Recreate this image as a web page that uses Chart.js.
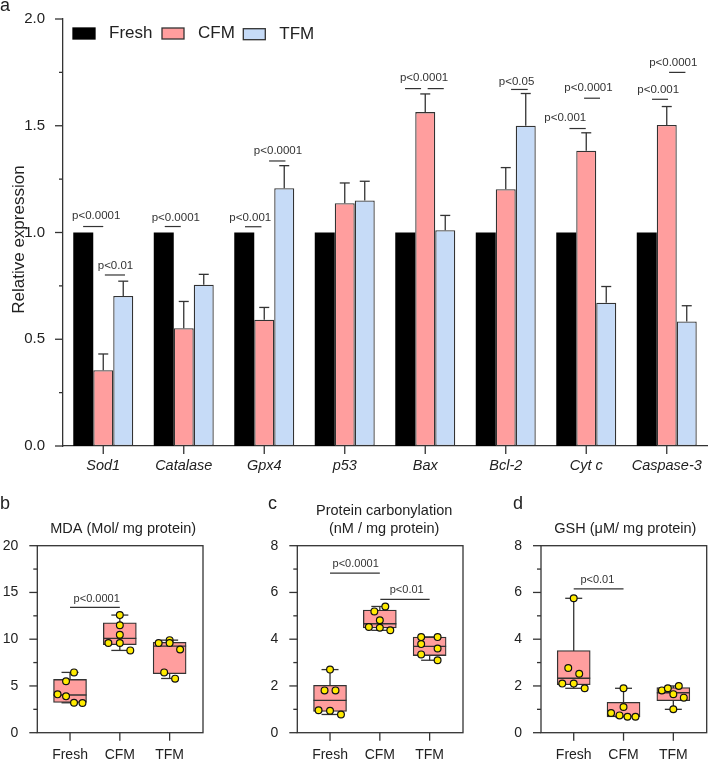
<!DOCTYPE html>
<html>
<head>
<meta charset="utf-8">
<title>Relative expression and oxidative markers</title>
<script src="https://cdn.jsdelivr.net/npm/chart.js@4"></script>
<style>
  html, body { margin: 0; padding: 0; background: #fff; width: 708px; height: 760px; overflow: hidden; }
  canvas { position: absolute; }
  .letter { position: absolute; font: 18px "Liberation Sans", Arial, sans-serif; color: #222; line-height: 20px; }
</style>
</head>
<body>
<canvas id="chart-a" width="708" height="480" style="left:0;top:0"></canvas>
<canvas id="chart-b" style="left:0;top:500px"></canvas>
<canvas id="chart-c" style="left:240px;top:500px"></canvas>
<canvas id="chart-d" style="left:470px;top:500px"></canvas>
<div class="letter" style="left:0;top:-5px">a</div>
<div class="letter" style="left:0;top:493px">b</div>
<div class="letter" style="left:268px;top:493px">c</div>
<div class="letter" style="left:513px;top:493px">d</div>
<script>
const FONT = '"Liberation Sans", Arial, sans-serif';
const INK = '#333';
const PINK = '#FF9E9E';
const BLUE = '#C6DBF7';
const YELLOW = '#FFEB00';

// panel a
const genes = ['Sod1', 'Catalase', 'Gpx4', 'p53', 'Bax', 'Bcl-2', 'Cyt c', 'Caspase-3'];
const seriesNames = ['Fresh', 'CFM', 'TFM'];
const freshValues = [1, 1, 1, 1, 1, 1, 1, 1];
const cfmValues = [0.355, 0.552, 0.591, 1.137, 1.564, 1.203, 1.383, 1.504];
const tfmValues = [0.703, 0.755, 1.207, 1.15, 1.011, 1.5, 0.671, 0.583];
const cfmErrTop = [0.431, 0.677, 0.649, 1.232, 1.649, 1.304, 1.467, 1.59];
const tfmErrTop = [0.772, 0.804, 1.313, 1.24, 1.08, 1.651, 0.747, 0.657];

// [x from, x to, y] and [text, x, y], in axis units
const pLinesA = [
  [-0.25, 0, 1.028], [0.02, 0.27, 0.801], [0.764, 0.963, 1.028], [1.761, 1.965, 1.027],
  [2.06, 2.263, 1.335], [3.749, 3.948, 1.674], [4.03, 4.23, 1.674], [5.066, 5.273, 1.67],
  [5.791, 5.994, 1.487], [5.973, 6.171, 1.629], [6.817, 7.016, 1.624], [7.029, 7.232, 1.75]
];
const pTextsA = [
  ['p<0.0001', -0.087, 1.078], ['p<0.01', 0.152, 0.842], ['p<0.0001', 0.901, 1.07],
  ['p<0.001', 1.826, 1.07], ['p<0.0001', 2.171, 1.382], ['p<0.0001', 3.985, 1.725],
  ['p<0.05', 5.134, 1.708], ['p<0.001', 5.739, 1.536], ['p<0.0001', 6.027, 1.676],
  ['p<0.001', 6.894, 1.668], ['p<0.0001', 7.081, 1.794]
];

// panels b, c, d
const groups = ['Fresh', 'CFM', 'TFM'];

// [low whisker, q1, median, q3, high whisker]
const mdaBoxes = [[3.2, 3.24, 4.03, 5.7, 6.45], [8.8, 9.41, 10.09, 11.76, 12.58], [5.8, 6.31, 9.27, 9.66, 9.9]];
const mdaPoints = [
  [-0.25, 4.1], [-0.08, 5.5], [-0.08, 3.89], [0.08, 6.45], [0.08, 3.2], [0.25, 3.17],
  [0.77, 9.59], [1, 12.58], [1, 11.5], [1, 10.48], [1, 9.59], [1.21, 8.8],
  [1.78, 9.59], [1.89, 6.45], [2, 9.9], [2, 9.59], [2.11, 5.78], [2.21, 8.9]
];
const carbBoxes = [[0.78, 0.91, 1.38, 2.03, 2.7], [4.38, 4.48, 4.66, 5.25, 5.4], [3.1, 3.3, 3.69, 4.09, 4.1]];
const carbPoints = [
  [-0.23, 0.96], [-0.11, 1.81], [0, 2.7], [0, 0.94], [0.11, 1.81], [0.22, 0.78],
  [0.78, 4.52], [0.89, 5.19], [1, 4.81], [1, 4.49], [1.11, 5.4], [1.21, 4.38],
  [1.83, 4.09], [1.83, 3.79], [1.83, 3.35], [2.16, 4.09], [2.16, 3.6], [2.16, 3.1]
];
const gshBoxes = [[1.9, 2.05, 2.33, 3.51, 5.75], [0.68, 0.68, 0.7, 1.3, 1.9], [1, 1.37, 1.71, 1.93, 2]];
const gshPoints = [
  [-0.23, 2.1], [-0.11, 2.77], [0, 5.75], [0, 2.1], [0.11, 2.52], [0.22, 1.9],
  [0.75, 0.84], [0.92, 0.74], [1, 1.9], [1, 1.1], [1.08, 0.68], [1.24, 0.68],
  [1.77, 1.81], [1.89, 1.9], [2, 1.65], [2, 1], [2.11, 2], [2.21, 1.5]
];

function drawTick(ctx, x1, y1, x2, y2) {
  ctx.beginPath();
  ctx.moveTo(x1, y1);
  ctx.lineTo(x2, y2);
  ctx.stroke();
}

function drawAxisTicks(chart, majorStep) {
  const { ctx, chartArea, scales } = chart;
  ctx.save();
  ctx.strokeStyle = INK;
  ctx.lineWidth = 1.3;
  scales.y.ticks.forEach(t => {
    const y = scales.y.getPixelForValue(t.value);
    const major = Math.abs(t.value / majorStep - Math.round(t.value / majorStep)) < 1e-6;
    drawTick(ctx, chartArea.left - (major ? 8 : 4), y, chartArea.left, y);
  });
  scales.x.ticks.forEach((t, i) => {
    const x = scales.x.getPixelForTick(i);
    drawTick(ctx, x, chartArea.bottom, x, chartArea.bottom + 8);
  });
  ctx.restore();
}

function drawPValues(chart, lines, texts, fontSize) {
  const { ctx, scales } = chart;
  ctx.save();
  ctx.strokeStyle = INK;
  ctx.lineWidth = 1.2;
  lines.forEach(([x0, x1, y]) => {
    const py = scales.y.getPixelForValue(y);
    drawTick(ctx, scales.x.getPixelForValue(x0), py, scales.x.getPixelForValue(x1), py);
  });
  ctx.fillStyle = INK;
  ctx.font = fontSize + 'px ' + FONT;
  ctx.textAlign = 'center';
  ctx.textBaseline = 'middle';
  texts.forEach(([text, x, y]) => {
    ctx.fillText(text, scales.x.getPixelForValue(x), scales.y.getPixelForValue(y));
  });
  ctx.restore();
}

const errorBarsPlugin = {
  id: 'errorBars',
  afterDatasetsDraw(chart) {
    const { ctx, scales } = chart;
    ctx.save();
    ctx.strokeStyle = INK;
    ctx.lineWidth = 1.3;
    [[1, cfmErrTop], [2, tfmErrTop]].forEach(([index, tops]) => {
      chart.getDatasetMeta(index).data.forEach((bar, i) => {
        const top = scales.y.getPixelForValue(tops[i]);
        drawTick(ctx, bar.x, bar.y, bar.x, top);
        drawTick(ctx, bar.x - 5, top, bar.x + 5, top);
      });
    });
    ctx.restore();
  }
};

const legendPlugin = {
  id: 'swatchLegend',
  afterDraw(chart) {
    const { ctx, chartArea } = chart;
    const swatches = [[10, 46, '#000'], [99, 135, PINK], [180.3, 216.3, BLUE]];
    ctx.save();
    ctx.font = '17px ' + FONT;
    ctx.textBaseline = 'middle';
    ctx.textAlign = 'left';
    seriesNames.forEach((name, i) => {
      const [boxX, textX, color] = swatches[i];
      const dy = i === 2 ? 0.7 : 0;
      ctx.fillStyle = color;
      ctx.strokeStyle = i === 0 ? '#000' : INK;
      ctx.lineWidth = 1.3;
      ctx.fillRect(chartArea.left + boxX, 28 + dy, 22, 11);
      ctx.strokeRect(chartArea.left + boxX, 28 + dy, 22, 11);
      ctx.fillStyle = '#222';
      ctx.fillText(name, chartArea.left + textX, 33.5 + dy);
    });
    ctx.restore();
  }
};

const chartA = new Chart(document.getElementById('chart-a'), {
  type: 'bar',
  data: {
    labels: genes,
    datasets: [
      { label: seriesNames[0], data: freshValues, backgroundColor: '#000', borderColor: '#000', borderWidth: 0 },
      { label: seriesNames[1], data: cfmValues, backgroundColor: PINK, borderColor: INK, borderWidth: 1.3, borderSkipped: false },
      { label: seriesNames[2], data: tfmValues, backgroundColor: BLUE, borderColor: INK, borderWidth: 1.3, borderSkipped: false }
    ]
  },
  options: {
    responsive: false,
    animation: false,
    layout: { padding: { top: 17.5, right: 1 } },
    datasets: { bar: { categoryPercentage: 0.745, barPercentage: 1 } },
    plugins: { legend: { display: false }, tooltip: { enabled: false } },
    scales: {
      x: {
        grid: { display: false },
        border: { color: INK, width: 1.3 },
        ticks: { color: '#222', font: { family: FONT, size: 14.5, style: 'italic' }, padding: 3, autoSkip: false, maxRotation: 0 },
        afterFit(scale) { scale.height = 34; }
      },
      y: {
        min: 0,
        max: 2,
        grid: { display: false },
        border: { color: INK, width: 1.3 },
        title: {
          display: true,
          text: 'Relative expression   ',
          color: '#222',
          font: { family: FONT, size: 17 },
          padding: { top: 9, bottom: 0 }
        },
        ticks: {
          stepSize: 0.25,
          color: '#222',
          font: { family: FONT, size: 15 },
          padding: 10,
          autoSkip: false,
          callback: v => (v % 0.5 === 0 ? v.toFixed(1) : '')
        },
        afterFit(scale) { scale.width = 63; }
      }
    }
  },
  plugins: [
    errorBarsPlugin,
    legendPlugin,
    {
      id: 'panelA',
      afterDraw(chart) {
        drawAxisTicks(chart, 0.5);
        drawPValues(chart, pLinesA, pTextsA, 11.5);
      }
    }
  ]
});

function boxPanel(id, cfg) {
  const canvas = document.getElementById(id);
  canvas.width = cfg.width;
  canvas.height = 260;
  return new Chart(canvas, {
    type: 'bar',
    data: {
      datasets: [
        {
          type: 'scatter',
          xAxisID: 'x',
          yAxisID: 'y',
          order: 0,
          data: cfg.points.map(p => ({ x: p[0], y: p[1] })),
          pointRadius: 3.4,
          pointBackgroundColor: YELLOW,
          pointBorderColor: '#111',
          pointBorderWidth: 1.2
        },
        {
          type: 'bar',
          order: 1,
          data: cfg.boxes.map((b, i) => ({ x: i, y: [b[1], b[3]] })),
          backgroundColor: PINK,
          borderColor: INK,
          borderWidth: 1.3,
          borderSkipped: false,
          barThickness: 33
        }
      ]
    },
    options: {
      responsive: false,
      animation: false,
      layout: { padding: { top: 45.7, right: cfg.rightPad } },
      plugins: { legend: { display: false }, tooltip: { enabled: false } },
      scales: {
        x: {
          type: 'linear',
          offset: false,
          min: -0.657,
          max: 2.67,
          grid: { display: false },
          border: { display: false },
          afterBuildTicks(scale) { scale.ticks = groups.map((g, i) => ({ value: i })); },
          ticks: {
            color: '#222',
            font: { family: FONT, size: 14 },
            padding: 6,
            autoSkip: false,
            maxRotation: 0,
            callback: v => groups[v]
          },
          afterFit(scale) { scale.height = 27.3; }
        },
        y: {
          min: 0,
          max: cfg.yMax,
          grid: { display: false },
          border: { display: false },
          ticks: {
            stepSize: cfg.yStep,
            color: '#222',
            font: { family: FONT, size: 14 },
            padding: 11,
            autoSkip: false,
            callback: v => (v % cfg.yLabelStep === 0 ? String(v) : '')
          },
          afterFit(scale) { scale.width = cfg.yWidth; }
        }
      }
    },
    plugins: [{
      id: 'boxMarks',
      beforeDatasetsDraw(chart) {
        // whiskers go under the boxes
        const { ctx, scales } = chart;
        ctx.save();
        ctx.strokeStyle = INK;
        ctx.lineWidth = 1.3;
        cfg.boxes.forEach((b, i) => {
          const x = scales.x.getPixelForValue(i);
          const low = scales.y.getPixelForValue(b[0]);
          const high = scales.y.getPixelForValue(b[4]);
          drawTick(ctx, x, low, x, high);
          drawTick(ctx, x - 8.5, low, x + 8.5, low);
          drawTick(ctx, x - 8.5, high, x + 8.5, high);
        });
        ctx.restore();
      },
      afterDatasetDraw(chart, args) {
        // medians on the boxes, under the points
        if (args.index !== 1) return;
        const { ctx, scales } = chart;
        ctx.save();
        ctx.strokeStyle = INK;
        ctx.lineWidth = 1.3;
        cfg.boxes.forEach((b, i) => {
          const x = scales.x.getPixelForValue(i);
          const y = scales.y.getPixelForValue(b[2]);
          drawTick(ctx, x - 16.5, y, x + 16.5, y);
        });
        ctx.restore();
      },
      afterDraw(chart) {
        const { ctx, chartArea } = chart;
        ctx.save();
        ctx.strokeStyle = INK;
        ctx.lineWidth = 1.3;
        ctx.strokeRect(chartArea.left, chartArea.top, chartArea.width, chartArea.height);
        // panel title, a little right of the plot centre as in the figure
        ctx.fillStyle = '#222';
        ctx.font = '14.5px ' + FONT;
        ctx.textAlign = 'center';
        ctx.textBaseline = 'middle';
        cfg.title.forEach((line, i) => {
          ctx.fillText(line, (chartArea.left + chartArea.right) / 2 + cfg.titleShift, chartArea.top - 16.7 - 18 * (cfg.title.length - 1 - i));
        });
        ctx.restore();
        drawAxisTicks(chart, cfg.yLabelStep);
        drawPValues(chart, cfg.pLines, cfg.pTexts, 11);
      }
    }]
  });
}

boxPanel('chart-b', {
  width: 215, yWidth: 37.3, rightPad: 12,
  title: ['MDA (Mol/ mg protein)'], titleShift: 3,
  yMax: 20, yStep: 2.5, yLabelStep: 5,
  boxes: mdaBoxes, points: mdaPoints,
  pLines: [[0, 1, 13.4]], pTexts: [['p<0.0001', 0.536, 14.33]]
});
boxPanel('chart-c', {
  width: 235, yWidth: 57.3, rightPad: 12,
  title: ['Protein carbonylation', '(nM / mg protein)'], titleShift: 4,
  yMax: 8, yStep: 1, yLabelStep: 2,
  boxes: carbBoxes, points: carbPoints,
  pLines: [[0, 1, 6.83], [1.01, 2, 5.7]], pTexts: [['p<0.0001', 0.515, 7.22], ['p<0.01', 1.54, 6.1]]
});
boxPanel('chart-d', {
  width: 249, yWidth: 71, rightPad: 12.3,
  title: ['GSH (μM/ mg protein)'], titleShift: 1.5,
  yMax: 8, yStep: 1, yLabelStep: 2,
  boxes: gshBoxes, points: gshPoints,
  pLines: [[0, 1, 6.15]], pTexts: [['p<0.01', 0.475, 6.53]]
});
</script>
</body>
</html>
